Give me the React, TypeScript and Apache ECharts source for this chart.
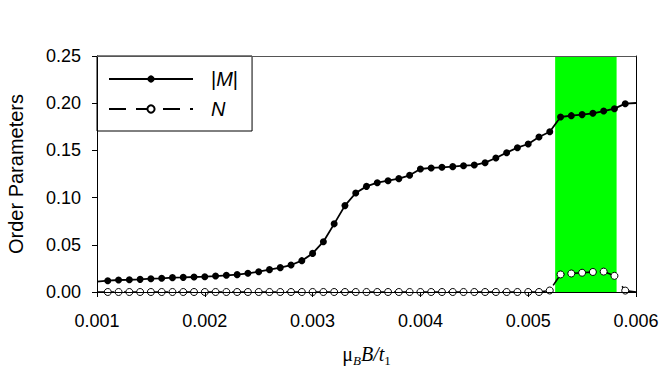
import React, { useEffect, useRef } from "react";
import * as echarts from "echarts";

// magnetic field values mu_B B / t1
const fieldValues = [
  0.001, 0.0011, 0.0012, 0.0013, 0.0014, 0.0015, 0.0016, 0.0017, 0.0018, 0.0019,
  0.002, 0.0021, 0.0022, 0.0023, 0.0024, 0.0025, 0.0026, 0.0027, 0.0028, 0.0029,
  0.003, 0.0031, 0.0032, 0.0033, 0.0034, 0.0035, 0.0036, 0.0037, 0.0038, 0.0039,
  0.004, 0.0041, 0.0042, 0.0043, 0.0044, 0.0045, 0.0046, 0.0047, 0.0048, 0.0049,
  0.005, 0.0051, 0.0052, 0.0053, 0.0054, 0.0055, 0.0056, 0.0057, 0.0058, 0.0059,
  0.006,
];

// |M|
const magnetization = [
  0.011, 0.012, 0.0127, 0.013, 0.0134, 0.0141, 0.0145, 0.0152, 0.0155, 0.0159,
  0.0162, 0.0169, 0.0177, 0.0184, 0.0198, 0.0215, 0.0237, 0.0258, 0.0286, 0.0332,
  0.0409, 0.0533, 0.0722, 0.0915, 0.1049, 0.1119, 0.1158, 0.1179, 0.1201, 0.1236,
  0.1303, 0.1314, 0.1321, 0.1328, 0.1338, 0.1345, 0.137, 0.1419, 0.1476, 0.1529,
  0.1568, 0.1642, 0.1698, 0.1854, 0.1868, 0.1879, 0.1893, 0.1917, 0.1942, 0.1995,
  0.2002,
];

// N
const nematic = [
  0, 0, 0, 0, 0, 0, 0, 0, 0, 0,
  0, 0, 0, 0, 0, 0, 0, 0, 0, 0,
  0, 0, 0, 0, 0, 0, 0, 0, 0, 0,
  0, 0, 0, 0, 0, 0, 0, 0, 0, 0,
  0, 0, 0.0016, 0.0186, 0.0196, 0.0204, 0.0212, 0.0216, 0.0171, 0.0015,
  0,
];

// highlighted field range
const bandRange = [0.00525, 0.00582];

const xTicks = { min: 0.001, max: 0.006, step: 0.001 };
const yTicks = { min: 0, max: 0.25, step: 0.05 };

const SANS = "'Liberation Sans', Arial, sans-serif";
const SERIF = "'Liberation Serif', 'Times New Roman', serif";

function toPoints(ys: number[]) {
  const last = ys.length - 1;
  return ys.map((y, i) =>
    i === 0 || i === last
      ? { value: [fieldValues[i], y], symbol: "none" }
      : { value: [fieldValues[i], y] }
  );
}

export default function App() {
  const ref = useRef<HTMLDivElement>(null);

  useEffect(() => {
    if (!ref.current) return;
    const chart = echarts.init(ref.current, undefined, { renderer: "svg" });

    const frameAxisX = {
      type: "value",
      position: "top",
      min: xTicks.min,
      max: xTicks.max,
      interval: xTicks.step,
      z: 5,
      axisLine: { show: true, onZero: false, lineStyle: { color: "#555", width: 1 } },
      axisTick: { show: false },
      axisLabel: { show: false },
      splitLine: { show: false },
    };
    const frameAxisY = {
      type: "value",
      position: "right",
      min: yTicks.min,
      max: yTicks.max,
      interval: yTicks.step,
      z: 5,
      axisLine: { show: true, onZero: false, lineStyle: { color: "#000", width: 1 } },
      axisTick: { show: false },
      axisLabel: { show: false },
      splitLine: { show: false },
    };

    const option: any = {
      animation: false,
      backgroundColor: "#ffffff",
      textStyle: { fontFamily: SANS },
      grid: {
        left: 97,
        right: 28,
        top: 56,
        bottom: 89,
        outerBoundsMode: "none",
        containLabel: false,
      },
      legend: {
        left: 97,
        top: 56,
        orient: "vertical",
        data: ["M", "N"],
        itemWidth: 84,
        itemHeight: 9,
        itemGap: 10,
        padding: [13, 14, 12, 11],
        backgroundColor: "#ffffff",
        borderColor: "#000000",
        borderWidth: 1,
        borderRadius: 0,
        z: 4,
        formatter: (name: string) => (name === "M" ? "{b||}{i|M}{b||}" : "{i|N}"),
        textStyle: {
          color: "#000",
          fontFamily: SANS,
          fontSize: 20,
          padding: [0, 0, 0, 13],
          rich: {
            b: { fontFamily: SANS, fontSize: 20, color: "#000" },
            i: { fontFamily: SANS, fontSize: 20, fontStyle: "italic", color: "#000" },
          },
        },
      },
      xAxis: [
        {
          type: "value",
          position: "bottom",
          min: xTicks.min,
          max: xTicks.max,
          interval: xTicks.step,
          z: 5,
          axisLine: { show: true, onZero: false, lineStyle: { color: "#000", width: 1 } },
          axisTick: { show: true, inside: false, length: 5, lineStyle: { color: "#000" } },
          axisLabel: {
            color: "#000",
            fontFamily: SANS,
            fontSize: 18,
            margin: 20,
            formatter: (v: number) => v.toFixed(3),
          },
          splitLine: { show: false },
          name: "{m|μ}{s|B}{i|B/t}{n|1}",
          nameLocation: "middle",
          nameGap: 51,
          nameTextStyle: {
            color: "#000",
            fontFamily: SERIF,
            fontSize: 20,
            rich: {
              m: { fontFamily: SERIF, fontSize: 20, color: "#000", lineHeight: 22 },
              s: {
                fontFamily: SERIF,
                fontSize: 13,
                fontStyle: "italic",
                color: "#000",
                lineHeight: 13,
                padding: [12, 0, 0, 0],
              },
              i: { fontFamily: SERIF, fontSize: 20, fontStyle: "italic", color: "#000", lineHeight: 22 },
              n: {
                fontFamily: SERIF,
                fontSize: 13,
                color: "#000",
                lineHeight: 13,
                padding: [12, 0, 0, 0],
              },
            },
          },
        },
        frameAxisX,
      ],
      yAxis: [
        {
          type: "value",
          position: "left",
          min: yTicks.min,
          max: yTicks.max,
          interval: yTicks.step,
          z: 5,
          axisLine: { show: true, onZero: false, lineStyle: { color: "#000", width: 1 } },
          axisTick: { show: true, inside: false, length: 5, lineStyle: { color: "#000" } },
          axisLabel: {
            color: "#000",
            fontFamily: SANS,
            fontSize: 18,
            margin: 16,
            formatter: (v: number) => v.toFixed(2),
          },
          splitLine: { show: false },
          name: "Order Parameters",
          nameLocation: "middle",
          nameGap: 71,
          nameTextStyle: { color: "#000", fontFamily: SANS, fontSize: 20 },
        },
        frameAxisY,
      ],
      series: [
        {
          type: "line",
          z: 1,
          silent: true,
          xAxisIndex: 0,
          yAxisIndex: 0,
          data: [
            [bandRange[0], 0],
            [bandRange[1], 0],
          ],
          showSymbol: false,
          symbol: "none",
          lineStyle: { width: 0, opacity: 0 },
          markArea: {
            silent: true,
            itemStyle: { color: "#00ff00", opacity: 1 },
            data: [[{ xAxis: bandRange[0] }, { xAxis: bandRange[1] }]],
          },
        },
        {
          name: "M",
          type: "line",
          z: 3,
          xAxisIndex: 0,
          yAxisIndex: 0,
          data: toPoints(magnetization),
          symbol: "circle",
          symbolSize: 7,
          showAllSymbol: true,
          itemStyle: { color: "#000" },
          lineStyle: { color: "#000", width: 1.8 },
        },
        {
          name: "N",
          type: "line",
          z: 3,
          xAxisIndex: 0,
          yAxisIndex: 0,
          data: toPoints(nematic),
          symbol: "circle",
          symbolSize: 7,
          showAllSymbol: true,
          itemStyle: { color: "#fff", borderColor: "#000", borderWidth: 1 },
          lineStyle: { color: "#000", width: 1.6, type: [17, 10], dashOffset: 0 },
        },
      ],
    };

    chart.setOption(option);
    return () => chart.dispose();
  }, []);

  return (
    <div
      ref={ref}
      style={{ position: "fixed", left: 0, top: 0, width: 664, height: 381, background: "#fff" }}
    />
  );
}
